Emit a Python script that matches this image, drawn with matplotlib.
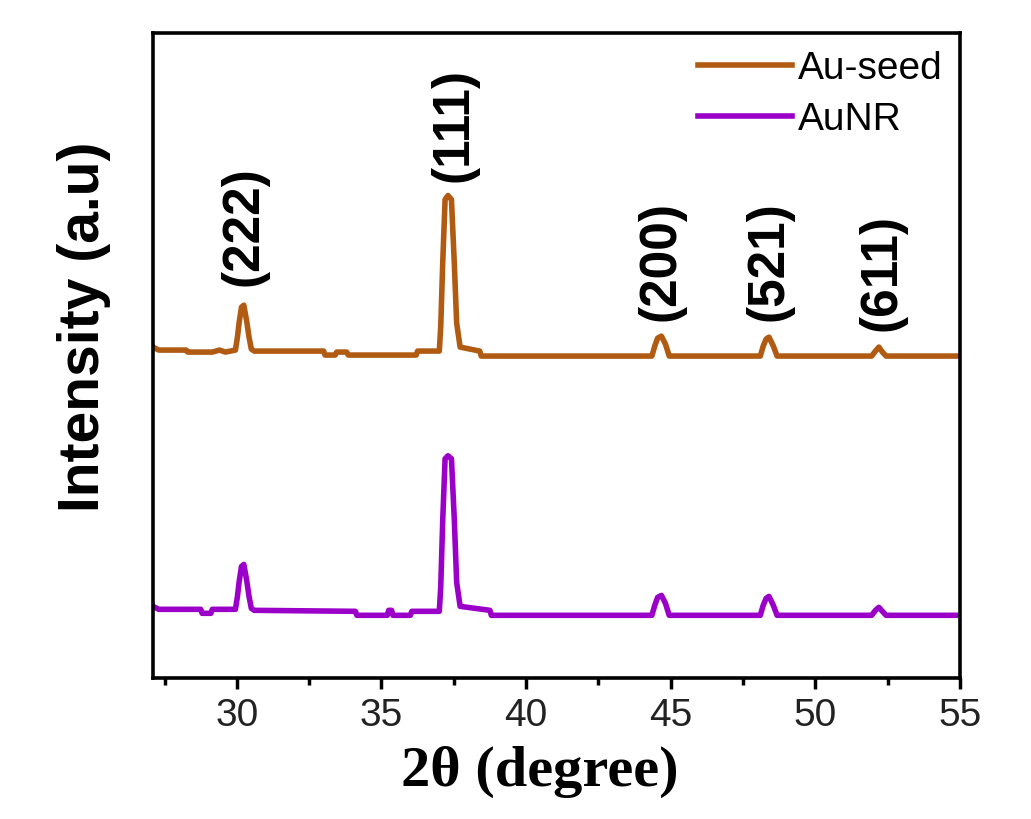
"""XRD patterns of Au-seed and AuNR, stacked."""

import matplotlib

matplotlib.use("Agg")
import matplotlib.pyplot as plt

# 2theta (degree) / intensity (a.u.)
seed_x = [27.00, 27.10, 27.30, 28.25, 28.30, 29.15, 29.40, 29.60, 29.95,
          30.02, 30.08, 30.16, 30.24, 30.34, 30.42, 30.50, 30.60, 33.00,
          33.05, 33.40, 33.45, 33.80, 33.85, 36.20, 36.25, 37.00, 37.05,
          37.12, 37.20, 37.30, 37.42, 37.52, 37.60, 37.72, 38.40, 38.45,
          44.35, 44.45, 44.55, 44.68, 44.82, 44.95, 48.10, 48.20, 48.30,
          48.40, 48.55, 48.68, 51.95, 52.08, 52.20, 52.32, 52.45, 55.00]
seed_y = [337, 332, 329, 329, 327, 327, 329, 327, 329,
          342, 357, 372, 374, 358, 342, 330, 328, 328,
          324, 324, 327, 327, 324, 324, 328, 328, 353,
          418, 480, 484, 480, 415, 356, 332, 328, 323,
          323, 333, 341, 343, 335, 323, 323, 333, 340,
          342, 333, 323, 323, 328, 332, 327, 323, 323]

aunr_x = [27.00, 27.10, 27.30, 28.75, 28.80, 29.10, 29.15, 29.95,
          30.02, 30.08, 30.16, 30.24, 30.34, 30.42, 30.50, 30.60, 34.10,
          34.15, 35.20, 35.25, 35.35, 35.40, 36.00, 36.05, 37.00, 37.05,
          37.12, 37.20, 37.30, 37.42, 37.52, 37.60, 37.72, 38.75, 38.80,
          44.35, 44.45, 44.55, 44.68, 44.82, 44.95, 48.10, 48.20, 48.30,
          48.40, 48.55, 48.68, 51.95, 52.08, 52.20, 52.32, 52.45, 55.00]
aunr_y = [78, 72, 69, 69, 65, 65, 69, 69,
          82, 97, 112, 114, 98, 82, 70, 68, 67,
          63, 63, 68, 68, 63, 63, 67, 67, 92,
          160, 220, 223, 220, 158, 96, 72, 68, 63,
          63, 73, 81, 83, 75, 63, 63, 73, 80,
          82, 73, 63, 63, 68, 71, 67, 63, 63]

peak_labels = ["(222)", "(111)", "(200)", "(521)", "(611)"]
peak_pos = [30.24, 37.5, 44.65, 48.4, 52.3]
peak_label_y = [393, 498, 358, 358, 348]

series_names = ["Au-seed", "AuNR"]
series_colors = ["#B05A12", "#9A00C8"]


def main() -> None:
    fig = plt.figure(figsize=(10.31, 8.19), dpi=100)
    ax = fig.add_axes([0.1484, 0.172, 0.7826, 0.7877])

    ax.plot(seed_x, seed_y, color=series_colors[0], lw=4.0, label=series_names[0])
    ax.plot(aunr_x, aunr_y, color=series_colors[1], lw=4.0, label=series_names[1])

    for lab, px, py in zip(peak_labels, peak_pos, peak_label_y):
        ax.text(px, py, lab, rotation=90, ha="center", va="bottom",
                fontsize=37, fontweight="bold", family="Liberation Sans")

    ax.set_xlim(27.1, 55)
    ax.set_ylim(0, 647)
    ax.set_xticks([30, 35, 40, 45, 50, 55])
    ax.set_xticks([27.5, 32.5, 37.5, 42.5, 47.5, 52.5], minor=True)
    ax.set_yticks([])
    ax.tick_params(axis="x", which="major", direction="out", length=8, width=2.5,
                   labelsize=28, pad=6, colors="black")
    ax.tick_params(axis="x", which="minor", direction="out", length=5, width=2.5)
    for lbl in ax.get_xticklabels():
        lbl.set_family("Liberation Sans")
        lbl.set_color("#222222")
    for sp in ax.spines.values():
        sp.set_linewidth(2.6)

    ax.set_xlabel("2θ (degree)", family="Liberation Serif", fontweight="bold",
                  fontsize=42, labelpad=4)
    ax.xaxis.set_label_coords(0.48, -0.105)
    ax.set_ylabel("Intensity (a.u)", family="Liberation Sans", fontweight="bold",
                  fontsize=41, labelpad=24)
    ax.yaxis.set_label_coords(-0.052, 0.545)

    ax.legend(loc="upper right", frameon=False, prop={"family": "Liberation Sans", "size": 28},
              handlelength=2.4, handletextpad=0.15, labelspacing=0.4,
              borderaxespad=0.15, borderpad=0.3)

    fig.savefig("out.png", dpi=100)
    plt.close(fig)


if __name__ == "__main__":
    main()
